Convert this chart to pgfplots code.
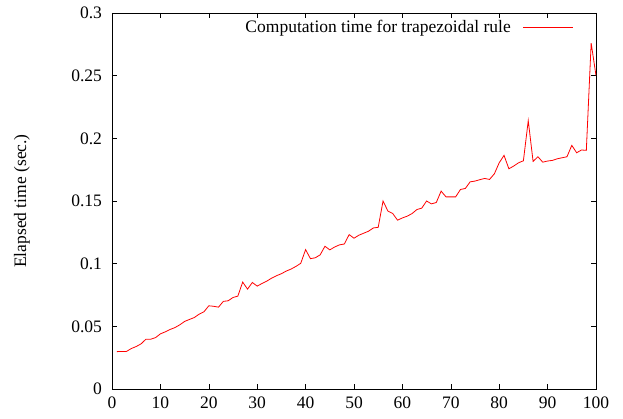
\documentclass[border=0pt]{standalone}
\usepackage{fontspec}
\setmainfont{Liberation Serif}
\usepackage{pgfplots}
\pgfplotsset{compat=1.18}
\begin{document}
\fontsize{17.5}{21}\selectfont
\begin{tikzpicture}[x=1pt,y=1pt]
\path[use as bounding box] (-112,-29) rectangle (511,389);
\begin{axis}[
  at={(0,0)}, anchor=origin,
  scale only axis, width=484pt, height=376pt,
  xmin=0, xmax=100, ymin=0, ymax=0.3,
  xtick={0,10,...,100},
  ytick={0,0.05,0.1,0.15,0.2,0.25,0.3},
  yticklabels={0,0.05,0.1,0.15,0.2,0.25,0.3},
  scaled y ticks=false,
  /pgf/number format/assume math mode=true,
  tick label style={font=\fontsize{17.5}{21}\selectfont},
  tick align=inside, major tick length=5pt,
  xtick pos=both, ytick pos=both,
  axis line style={line width=0.8pt},
  tick style={line width=0.6pt, black},
  xticklabel style={yshift=-2pt},
  yticklabel style={xshift=-4pt},
  ylabel={Elapsed time (sec.)},
  ylabel style={font=\fontsize{17.5}{21}\selectfont, at={(axis description cs:-0.186,0.5)}, anchor=center},
  legend plot pos=right,
  legend style={at={(1,1)}, anchor=north east, xshift=-20pt, yshift=-3pt, draw=none, fill=none, font=\fontsize{17.5}{21}\selectfont, inner sep=2pt, column sep=10pt},
  legend image code/.code={\draw[#1] (0pt,0pt) -- (50pt,0pt);},
]
\addlegendimage{color=red, draw=red, line width=1pt}
\addlegendentry{Computation time for trapezoidal rule}
\addplot[red, line width=0.8pt, forget plot] coordinates {
(1,0.0298) (2,0.030) (3,0.030) (4,0.0323) (5,0.0339) (6,0.036) (7,0.0397) (8,0.0397) (9,0.041) (10,0.044)
(11,0.0456) (12,0.0475) (13,0.049) (14,0.0512) (15,0.0539) (16,0.0555) (17,0.057) (18,0.0597) (19,0.0616) (20,0.0664)
(21,0.066) (22,0.0653) (23,0.0699) (24,0.0704) (25,0.073) (26,0.0741) (27,0.0853) (28,0.0797) (29,0.085) (30,0.0821)
(31,0.0842) (32,0.0861) (33,0.0885) (34,0.0904) (35,0.092) (36,0.0941) (37,0.0957) (38,0.0978) (39,0.1003) (40,0.1112)
(41,0.104) (42,0.1047) (43,0.107) (44,0.1139) (45,0.111) (46,0.1133) (47,0.115) (48,0.1157) (49,0.1232) (50,0.1203)
(51,0.1227) (52,0.1243) (53,0.1259) (54,0.1285) (55,0.129) (56,0.150) (57,0.142) (58,0.140) (59,0.1347) (60,0.1365)
(61,0.1379) (62,0.140) (63,0.1432) (64,0.1443) (65,0.150) (66,0.1477) (67,0.1488) (68,0.1579) (69,0.1533) (70,0.1533)
(71,0.1533) (72,0.1592) (73,0.160) (74,0.1653) (75,0.1659) (76,0.167) (77,0.168) (78,0.1672) (79,0.1717) (80,0.1805)
(81,0.1864) (82,0.1757) (83,0.1779) (84,0.1805) (85,0.1821) (86,0.2141) (87,0.1816) (88,0.1853) (89,0.181) (90,0.1819)
(91,0.1824) (92,0.1837) (93,0.1845) (94,0.1853) (95,0.1944) (96,0.1885) (97,0.1907) (98,0.1904) (99,0.276) (100,0.250)
};
\end{axis}
\end{tikzpicture}
\end{document}
